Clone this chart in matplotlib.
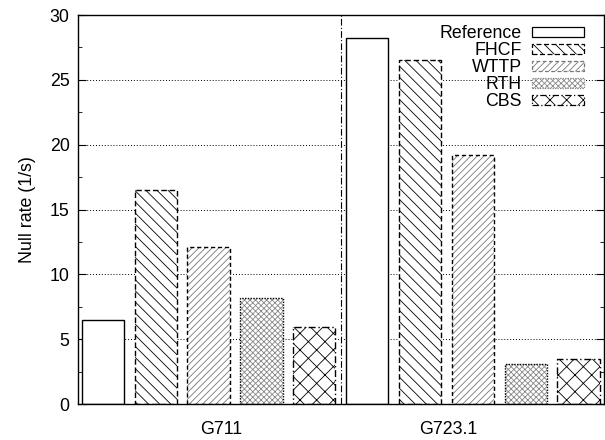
import matplotlib
matplotlib.use("Agg")
import matplotlib.pyplot as plt
from matplotlib.ticker import MultipleLocator
from matplotlib.patches import Patch

plt.rcParams.update({
    "font.family": ["Liberation Sans", "DejaVu Sans"],
    "font.size": 12.8,
    "hatch.linewidth": 0.6,
})

groups = ["G711", "G723.1"]
schemes = ["Reference", "FHCF", "WTTP", "RTH", "CBS"]
g711 = [6.5, 16.5, 12.1, 8.2, 5.9]
g723 = [28.2, 26.5, 19.2, 3.05, 3.45]

hatches = ["", "\\\\\\", "/////", "xxxxxx", "xx"]
edge_styles = ["solid", (0, (4, 2)), (0, (3, 2)), (0, (1, 1)), (0, (5, 2, 1, 2))]
hatch_colors = ["black", "black", "#777777", "#888888", "black"]

fig = plt.figure(figsize=(6.05, 4.40), dpi=100)
ax = fig.add_axes([78 / 605, 36 / 440, 526 / 605, 389 / 440])

n = len(schemes)
width = 0.8
for gi, vals in enumerate([g711, g723]):
    for si, v in enumerate(vals):
        x = gi * n + si
        ax.bar(x, v, width=width, facecolor="white", edgecolor=hatch_colors[si],
               hatch=hatches[si], linewidth=0, zorder=2)
        ax.bar(x, v, width=width, facecolor="none", edgecolor="black",
               linestyle=edge_styles[si], linewidth=1.0, zorder=3)

ax.axvline(n - 0.5, color="black", linestyle=(0, (6, 2, 1, 2)), linewidth=0.8, zorder=1)

ax.set_xlim(-0.47, 2 * n - 0.52)
ax.set_ylim(0, 30)
ax.yaxis.set_major_locator(MultipleLocator(5))
ax.yaxis.set_minor_locator(MultipleLocator(2.5))
ax.tick_params(axis="y", which="both", direction="in", right=True)
ax.tick_params(axis="y", which="major", length=6, pad=6)
ax.tick_params(axis="y", which="minor", length=3)
ax.set_xticks([2.23, 6.53])
ax.set_xticklabels(groups)
ax.tick_params(axis="x", length=0, pad=12)
ax.set_ylabel("Null rate (1/s)", labelpad=10)

for y in range(5, 30, 5):
    ax.axhline(y, color="black", linestyle=(0, (1, 2)), linewidth=0.7, zorder=0)

for s in ax.spines.values():
    s.set_linewidth(1.0)

handles = []
for si, name in enumerate(schemes):
    handles.append(Patch(facecolor="white", edgecolor=hatch_colors[si], hatch=hatches[si],
                         linestyle=edge_styles[si], linewidth=0.9, label=name))
leg = ax.legend(handles=handles, loc="upper right", bbox_to_anchor=(0.962, 0.974),
                markerfirst=False, frameon=False,
                handlelength=2.9, handleheight=0.45, labelspacing=0.0,
                handletextpad=0.6, borderaxespad=0, borderpad=0)
for t in leg.get_texts():
    t.set_ha("right")

fig.savefig("out.png", dpi=100)
